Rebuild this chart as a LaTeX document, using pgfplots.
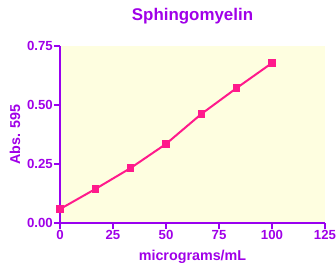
\documentclass[border=0pt]{standalone}
\usepackage{pgfplots}
\pgfplotsset{compat=1.18}
\usepackage{fontspec}
\setmainfont{Liberation Sans}
\definecolor{purp}{HTML}{A000E8}
\definecolor{axp}{HTML}{9900F0}
\definecolor{pinkl}{HTML}{FF1A8C}
\definecolor{bgy}{HTML}{FEFEE0}
\begin{document}
\begin{tikzpicture}[x=1pt,y=1pt]
\begin{axis}[
  name=ax,
  scale only axis,
  width=265pt, height=177pt,
  xmin=0, xmax=125, ymin=0, ymax=0.75,
  axis lines*=left,
  axis line style={axp, line width=2pt},
  axis background/.style={fill=bgy},
  xtick={0,25,50,75,100,125},
  ytick={0,0.25,0.5,0.75},
  tick style={axp, line width=1.6pt},
  major tick length=6pt,
  tick align=outside,
  ticklabel style={font=\bfseries\fontsize{13.2}{15}\selectfont, text=purp},
  yticklabel style={inner sep=1pt, /pgf/number format/.cd,fixed,fixed zerofill,precision=2},
  xticklabel style={inner sep=1.5pt},
  /pgf/number format/assume math mode=true,
  xlabel={micrograms/mL},
  ylabel={Abs. 595},
  label style={font=\bfseries\fontsize{14.3}{16}\selectfont, text=purp},
  xlabel style={at={(axis description cs:0.5,-0.153)}, anchor=north, inner sep=0pt},
  ylabel style={at={(axis description cs:-0.17,0.5)}, anchor=center, inner sep=0pt},
  title={Sphingomyelin},
  title style={font=\bfseries\fontsize{16.9}{19}\selectfont, text=purp, at={(axis description cs:0.5,1.136)}, anchor=center, inner sep=0pt},
  clip=false,
]
\addplot[pinkl, line width=2pt, mark=square*, mark size=3.3pt, mark options={solid, fill=pinkl, line width=0pt}]
coordinates {(0,0.059) (16.67,0.144) (33.33,0.233) (50,0.335) (66.67,0.462) (83.33,0.572) (100,0.678)};
\end{axis}
\pgfresetboundingbox
\path[use as bounding box] ([xshift=-60pt,yshift=-39pt]ax.south west) rectangle ([xshift=11pt,yshift=46pt]ax.north east);
\end{tikzpicture}
\end{document}
